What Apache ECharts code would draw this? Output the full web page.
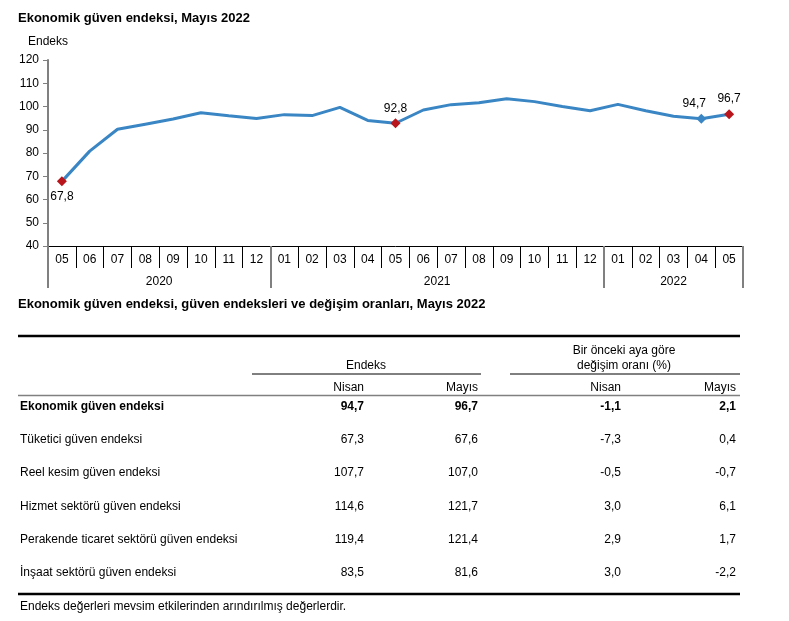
<!DOCTYPE html>
<html><head><meta charset="utf-8">
<script src="https://cdn.jsdelivr.net/npm/echarts@6/dist/echarts.min.js"></script>
<style>html,body{margin:0;padding:0;background:#fff}#c{width:789px;height:621px}</style>
</head><body><div id="c"></div>
<script>
// ---- chart data ----
const months = ['05','06','07','08','09','10','11','12','01','02','03','04','05','06','07','08','09','10','11','12','01','02','03','04','05'];
const values = [67.8,80.8,90.2,92.4,94.6,97.3,96.0,94.8,96.5,96.1,99.6,94.0,92.8,98.5,100.8,101.6,103.3,102.1,100.0,98.2,100.9,98.2,95.8,94.7,96.7];
const years = ['2020','2021','2022'];
const yearStarts = [0, 8, 20, 25];          // group boundaries (category index)
const markedIdx = [0, 12, 23, 24];
const markedColors = ['#b8161c','#b8161c','#3a86c4','#b8161c'];
const yTicks = [40,50,60,70,80,90,100,110,120];

// ---- table data ----
const tableTitle = 'Ekonomik güven endeksi, güven endeksleri ve değişim oranları, Mayıs 2022';
const rowNames = ['Ekonomik güven endeksi','Tüketici güven endeksi','Reel kesim güven endeksi','Hizmet sektörü güven endeksi','Perakende ticaret sektörü güven endeksi','İnşaat sektörü güven endeksi'];
const endeksNisan = [94.7, 67.3, 107.7, 114.6, 119.4, 83.5];
const endeksMayis = [96.7, 67.6, 107.0, 121.7, 121.4, 81.6];
const degisimNisan = [-1.1, -7.3, -0.5, 3.0, 2.9, 3.0];
const degisimMayis = [2.1, 0.4, -0.7, 6.1, 1.7, -2.2];
const colHeaders = ['Nisan','Mayıs','Nisan','Mayıs'];
const groupHeaders = ['Endeks', 'Bir önceki aya göre\ndeğişim oranı (%)'];
const footnote = 'Endeks değerleri mevsim etkilerinden arındırılmış değerlerdir.';

const fmt = v => v.toFixed(1).replace('.', ',');
const FONT = 'Liberation Sans, Arial, sans-serif';

const seriesData = values.map((v, i) => {
  const k = markedIdx.indexOf(i);
  if (k < 0) return { value: v, symbolSize: 0, label: { show: false } };
  return {
    value: v, symbol: 'diamond', symbolSize: 10,
    itemStyle: { color: markedColors[k] },
    label: {
      show: true, position: i === 0 ? 'bottom' : 'top', distance: 4,
      offset: i === 23 ? [-7, 0] : [0, 0]
    }
  };
});

// table graphics
const g = [];
const txt = (text, x, y, align, bold, size) => g.push({
  type: 'text', x: x, y: y, silent: true,
  style: { text: text, fill: '#000', font: (bold ? 'bold ' : '') + (size || 12) + 'px ' + FONT,
    align: align, textAlign: align, verticalAlign: 'middle', textVerticalAlign: 'middle', lineHeight: 15 }
});
const ln = (x1, y1, x2, y2, color, w) => g.push({
  type: 'line', silent: true, shape: { x1, y1, x2, y2 }, style: { stroke: color, lineWidth: w }
});
const colX = [364, 478, 621, 736];
const rowY = [407, 440, 473, 507, 540, 573];
ln(18, 336, 740, 336, '#000', 2.5);
txt(groupHeaders[0], 366, 366, 'center');
txt(groupHeaders[1], 624, 358, 'center');
ln(252, 374, 481, 374, '#000', 1);
ln(510, 374, 740, 374, '#000', 1);
colHeaders.forEach((h, j) => txt(h, colX[j], 388, 'right'));
ln(18, 395.5, 740, 395.5, '#808080', 1.5);
rowNames.forEach((n, i) => {
  const b = i === 0;
  txt(n, 20, rowY[i], 'left', b);
  txt(fmt(endeksNisan[i]), colX[0], rowY[i], 'right', b);
  txt(fmt(endeksMayis[i]), colX[1], rowY[i], 'right', b);
  txt(fmt(degisimNisan[i]), colX[2], rowY[i], 'right', b);
  txt(fmt(degisimMayis[i]), colX[3], rowY[i], 'right', b);
});
ln(18, 594, 740, 594, '#000', 2.5);
txt(footnote, 20, 607, 'left');

const chart = echarts.init(document.getElementById('c'), null, { renderer: 'canvas' });
chart.setOption({
  animation: false,
  backgroundColor: '#fff',
  textStyle: { fontFamily: FONT },
  title: [
    { text: 'Ekonomik güven endeksi, Mayıs 2022', left: 13, top: 7,
      textStyle: { fontSize: 13, fontWeight: 'bold', color: '#000', fontFamily: FONT } },
    { text: tableTitle, left: 13, top: 293,
      textStyle: { fontSize: 13, fontWeight: 'bold', color: '#000', fontFamily: FONT } }
  ],
  grid: { left: 48, right: 46, top: 60, bottom: 375, containLabel: false },
  xAxis: [
    {
      type: 'category', data: months, boundaryGap: true, position: 'bottom',
      axisLine: { show: true, lineStyle: { color: '#000', width: 1 } },
      axisTick: { show: true, interval: 0, length: 22, lineStyle: { color: '#000', width: 1 } },
      axisLabel: { interval: 0, margin: 8, fontSize: 12, color: '#000', fontFamily: FONT },
      splitLine: { show: false }
    },
    {
      type: 'value', min: 0, max: months.length, position: 'bottom',
      axisLine: { show: false },
      axisTick: { show: true, customValues: yearStarts, length: 42, lineStyle: { color: '#808080', width: 2 } },
      axisLabel: {
        show: true, margin: 30, fontSize: 12, color: '#000', fontFamily: FONT,
        customValues: years.map((y, i) => (yearStarts[i] + yearStarts[i + 1]) / 2),
        formatter: v => { const i = years.findIndex((y, k) => (yearStarts[k] + yearStarts[k + 1]) / 2 === v); return i >= 0 ? years[i] : ''; }
      },
      splitLine: { show: false }
    }
  ],
  yAxis: {
    type: 'value', min: yTicks[0], max: yTicks[yTicks.length - 1], interval: 10,
    name: 'Endeks', nameLocation: 'end', nameGap: 12,
    nameTextStyle: { fontSize: 12, color: '#000', fontFamily: FONT },
    axisLine: { show: true, lineStyle: { color: '#808080', width: 2 } },
    axisTick: { show: true, length: 5, lineStyle: { color: '#808080', width: 1 } },
    axisLabel: { margin: 9, fontSize: 12, color: '#000', fontFamily: FONT },
    splitLine: { show: false }
  },
  series: [{
    type: 'line', xAxisIndex: 0, yAxisIndex: 0, data: seriesData,
    symbol: 'diamond', showAllSymbol: true,
    lineStyle: { color: '#3a86c4', width: 3 },
    itemStyle: { color: '#3a86c4' },
    label: { color: '#000', fontSize: 12, fontFamily: FONT, formatter: p => fmt(p.value) },
    emphasis: { disabled: true }, z: 3
  }],
  graphic: g
});
</script></body></html>
